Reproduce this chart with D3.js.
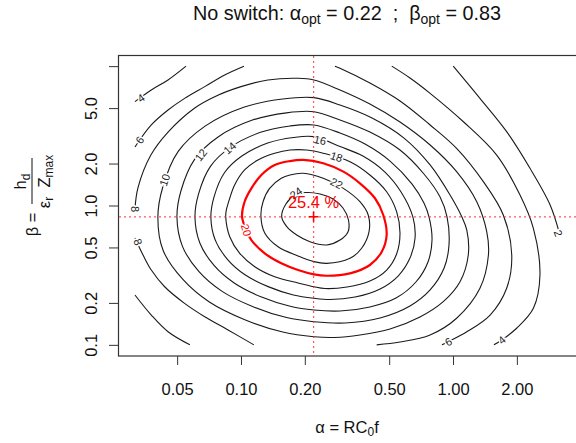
<!DOCTYPE html>
<html lang="en">
<head>
<meta charset="UTF-8"/>
<title>No switch contour</title>
<script src="https://d3js.org/d3.v7.min.js"></script>
<style>
  body { margin: 0; background: white; }
  svg { display: block; font-family: "Liberation Sans", Arial, sans-serif; }
</style>
</head>
<body>
<script>
var w = 576;
var h = 443;

// log axis ticks
var alphaTicks = [0.05, 0.1, 0.2, 0.5, 1, 2];
var alphaLabels = ["0.05", "0.10", "0.20", "0.50", "1.00", "2.00"];
var betaTicks = [0.1, 0.2, 0.5, 1, 2, 5, 10];
var betaLabels = ["0.1", "0.2", "0.5", "1.0", "2.0", "5.0", ""];

// optimum
var alphaOpt = 0.22;
var betaOpt = 0.83;
var effMax = 25.4;

// contour lines, each point is [log10 alpha, log10 beta]
var c24 = [[-0.808,-0.080],[-0.784,-0.152],[-0.737,-0.212],[-0.675,-0.260],[-0.596,-0.283],[-0.533,-0.248],[-0.495,-0.188],[-0.493,-0.104],[-0.519,-0.018],[-0.566,0.047],[-0.627,0.083],[-0.698,0.093],[-0.745,0.075],[-0.788,0.011]];
var c22 = [[-0.906,-0.075],[-0.888,-0.197],[-0.825,-0.296],[-0.731,-0.362],[-0.656,-0.403],[-0.596,-0.415],[-0.486,-0.379],[-0.431,-0.307],[-0.396,-0.188],[-0.400,-0.068],[-0.439,0.027],[-0.517,0.123],[-0.612,0.195],[-0.706,0.231],[-0.769,0.219],[-0.810,0.195],[-0.865,0.123],[-0.896,0.027]];
var c20 = [[-0.995,-0.080],[-0.975,-0.176],[-0.951,-0.248],[-0.888,-0.343],[-0.810,-0.415],[-0.731,-0.463],[-0.656,-0.494],[-0.596,-0.504],[-0.486,-0.487],[-0.392,-0.427],[-0.336,-0.332],[-0.313,-0.212],[-0.329,-0.068],[-0.368,0.052],[-0.439,0.159],[-0.517,0.243],[-0.612,0.303],[-0.706,0.327],[-0.769,0.319],[-0.841,0.291],[-0.904,0.219],[-0.951,0.123],[-0.983,0.027]];
var c18 = [[-1.072,-0.080],[-1.053,-0.224],[-1.006,-0.343],[-0.935,-0.439],[-0.841,-0.511],[-0.731,-0.556],[-0.656,-0.583],[-0.604,-0.596],[-0.500,-0.585],[-0.392,-0.542],[-0.313,-0.463],[-0.266,-0.348],[-0.250,-0.197],[-0.266,-0.044],[-0.313,0.099],[-0.392,0.219],[-0.486,0.314],[-0.612,0.375],[-0.690,0.398],[-0.769,0.398],[-0.841,0.375],[-0.920,0.327],[-0.983,0.255],[-1.030,0.147],[-1.053,0.052],[-1.069,-0.032]];
var c16 = [[-1.142,-0.083],[-1.127,0.062],[-1.078,0.235],[-0.996,0.355],[-0.874,0.448],[-0.753,0.488],[-0.656,0.494],[-0.533,0.423],[-0.425,0.355],[-0.321,0.240],[-0.245,0.097],[-0.189,-0.083],[-0.179,-0.233],[-0.203,-0.377],[-0.259,-0.506],[-0.344,-0.599],[-0.462,-0.657],[-0.580,-0.675],[-0.656,-0.666],[-0.753,-0.642],[-0.869,-0.584],[-0.981,-0.497],[-1.064,-0.386],[-1.122,-0.246]];
var c14 = [[-1.217,-0.083],[-1.200,0.083],[-1.144,0.281],[-1.049,0.419],[-0.908,0.525],[-0.768,0.571],[-0.656,0.578],[-0.533,0.520],[-0.415,0.441],[-0.297,0.319],[-0.193,0.154],[-0.137,0.018],[-0.113,-0.083],[-0.099,-0.248],[-0.118,-0.405],[-0.175,-0.549],[-0.269,-0.664],[-0.392,-0.728],[-0.533,-0.757],[-0.656,-0.750],[-0.768,-0.723],[-0.903,-0.657],[-1.032,-0.556],[-1.127,-0.430],[-1.194,-0.269]];
var c12 = [[-1.302,-0.083],[-1.283,0.106],[-1.218,0.333],[-1.108,0.492],[-0.946,0.613],[-0.785,0.665],[-0.656,0.673],[-0.533,0.614],[-0.392,0.527],[-0.250,0.398],[-0.137,0.226],[-0.061,0.061],[-0.028,-0.083],[-0.019,-0.283],[-0.042,-0.449],[-0.108,-0.606],[-0.203,-0.721],[-0.344,-0.807],[-0.509,-0.843],[-0.656,-0.834],[-0.785,-0.804],[-0.940,-0.728],[-1.089,-0.616],[-1.199,-0.473],[-1.276,-0.293]];
var c10 = [[-1.392,-0.083],[-1.369,0.131],[-1.296,0.388],[-1.171,0.568],[-0.987,0.705],[-0.803,0.764],[-0.656,0.774],[-0.533,0.721],[-0.382,0.628],[-0.231,0.484],[-0.108,0.291],[-0.014,0.075],[0.042,-0.083],[0.065,-0.176],[0.072,-0.355],[0.033,-0.547],[-0.046,-0.690],[-0.156,-0.800],[-0.297,-0.886],[-0.439,-0.929],[-0.557,-0.947],[-0.656,-0.942],[-0.803,-0.908],[-0.979,-0.822],[-1.149,-0.693],[-1.275,-0.529],[-1.367,-0.323]];
var c8a = [[-1.5,-0.025],[-1.486,0.126],[-1.425,0.362],[-1.344,0.527],[-1.218,0.700],[-1.124,0.781],[-1.000,0.853],[-0.873,0.901],[-0.731,0.913],[-0.656,0.901],[-0.533,0.829],[-0.392,0.728],[-0.250,0.599],[-0.108,0.434],[0.017,0.243],[0.112,0.027],[0.159,-0.188],[0.167,-0.355],[0.127,-0.594],[0.017,-0.809],[-0.108,-0.929],[-0.250,-0.980],[-0.360,-1.0]];
var c8b = [[-1.5,-0.233],[-1.462,-0.355],[-1.423,-0.463],[-1.360,-0.583],[-1.266,-0.702],[-1.171,-0.798],[-1.061,-0.893],[-0.939,-1.0]];
var c6a = [[-1.5,0.420],[-1.423,0.578],[-1.344,0.685],[-1.266,0.769],[-1.171,0.853],[-1.077,0.937],[-0.986,1.0]];
var c6b = [[-1.5,-0.642],[-1.423,-0.786],[-1.344,-0.906],[-1.241,-1.0]];
var c6c = [[-0.557,1.0],[-0.533,0.985],[-0.392,0.879],[-0.250,0.750],[-0.108,0.578],[0.017,0.410],[0.143,0.171],[0.237,-0.068],[0.277,-0.355],[0.253,-0.594],[0.175,-0.786],[0.065,-0.906],[-0.022,-0.977],[-0.052,-1.0]];
var c4a = [[-1.5,0.745],[-1.423,0.829],[-1.344,0.901],[-1.259,1.0]];
var c4b = [[-0.289,1.0],[-0.203,0.915],[-0.108,0.805],[0.049,0.601],[0.206,0.362],[0.316,0.075],[0.379,-0.164],[0.410,-0.499],[0.379,-0.738],[0.300,-0.881],[0.230,-0.965],[0.193,-1.0]];
var c2 = [[0.001,1.0],[0.127,0.769],[0.253,0.530],[0.363,0.267],[0.458,0.004],[0.5,-0.190]];

// contour labels: level, [log10 alpha, log10 beta], angle
var labelLevels = ["4", "6", "8", "8", "10", "12", "14", "16", "18", "20", "22", "24", "6", "4", "2"];
var labelPoints = [[-1.472,0.771],[-1.478,0.470],[-1.5,-0.025],[-1.486,-0.262],[-1.360,0.183],[-1.189,0.362],[-1.053,0.413],[-0.627,0.470],[-0.549,0.350],[-0.975,-0.176],[-0.549,0.159],[-0.741,0.090],[-0.022,-0.977],[0.230,-0.965],[0.497,-0.200]];
var labelAngles = [-35, -55, 90, 70, -72, -52, -42, 12, 18, 75, 28, -35, -30, -40, 70];

var pieces = [
	{level: 24, pts: c24, closed: true},
	{level: 22, pts: c22, closed: true},
	{level: 20, pts: c20, closed: true},
	{level: 18, pts: c18, closed: true},
	{level: 16, pts: c16, closed: true},
	{level: 14, pts: c14, closed: true},
	{level: 12, pts: c12, closed: true},
	{level: 10, pts: c10, closed: true},
	{level: 8, pts: c8a, closed: false},
	{level: 8, pts: c8b, closed: false},
	{level: 6, pts: c6a, closed: false},
	{level: 6, pts: c6b, closed: false},
	{level: 6, pts: c6c, closed: false},
	{level: 4, pts: c4a, closed: false},
	{level: 4, pts: c4b, closed: false},
	{level: 2, pts: c2, closed: false}
];

var xScale = d3.scaleLog()
	.domain([Math.pow(10, -1.58), Math.pow(10, 0.58)])
	.range([118, 576]);

var yScale = d3.scaleLog()
	.domain([Math.pow(10, -1.08), Math.pow(10, 1.08)])
	.range([356, 55]);

function px(d) { return xScale(Math.pow(10, d[0])); }
function py(d) { return yScale(Math.pow(10, d[1])); }

var svg = d3.select("body")
	.append("svg")
	.attr("width", w)
	.attr("height", h);

svg.append("rect")
	.attr("width", w)
	.attr("height", h)
	.attr("fill", "white");

// contour lines
var openLine = d3.line().x(px).y(py).curve(d3.curveCatmullRom.alpha(0.5));
var ringLine = d3.line().x(px).y(py).curve(d3.curveCatmullRomClosed.alpha(0.5));

svg.selectAll("path.contour")
	.data(pieces)
	.enter()
	.append("path")
	.attr("class", "contour")
	.attr("d", function(d){ return d.closed ? ringLine(d.pts) : openLine(d.pts); })
	.attr("fill", "none")
	.attr("stroke", function(d){ return d.level === 20 ? "#ff0000" : "#1a1a1a"; })
	.attr("stroke-width", function(d){ return d.level === 20 ? 2.2 : 1.1; });

// contour labels, white halo breaks the line like R does
svg.selectAll("text.clabel")
	.data(labelLevels)
	.enter()
	.append("text")
	.attr("class", "clabel")
	.attr("transform", function(d, i){
		return "translate(" + px(labelPoints[i]) + "," + py(labelPoints[i]) + ") rotate(" + labelAngles[i] + ")";
	})
	.attr("text-anchor", "middle")
	.attr("dominant-baseline", "central")
	.attr("fill", function(d){ return d === "20" ? "#ff0000" : "#222"; })
	.attr("stroke", "white")
	.attr("stroke-width", 3)
	.attr("paint-order", "stroke")
	.style("font-size", "11px")
	.text(function(d){ return d; });

// dotted optimum lines
svg.append("line")
	.attr("x1", xScale(alphaOpt)).attr("x2", xScale(alphaOpt))
	.attr("y1", 56).attr("y2", 356)
	.attr("stroke", "#ff2020")
	.attr("stroke-opacity", 0.75)
	.attr("stroke-width", 1.2)
	.attr("stroke-dasharray", "2,3");

svg.append("line")
	.attr("x1", 119).attr("x2", w)
	.attr("y1", yScale(betaOpt)).attr("y2", yScale(betaOpt))
	.attr("stroke", "#ff2020")
	.attr("stroke-opacity", 0.75)
	.attr("stroke-width", 1.2)
	.attr("stroke-dasharray", "2,3");

// optimum marker and value
svg.append("text")
	.attr("x", xScale(alphaOpt))
	.attr("y", yScale(betaOpt) - 9)
	.attr("text-anchor", "middle")
	.attr("fill", "#ff0000")
	.style("font-size", "16.5px")
	.style("white-space", "pre")
	.text(effMax + " %");

svg.append("path")
	.attr("d", "M" + (xScale(alphaOpt) - 5) + "," + yScale(betaOpt) + "h10M" + xScale(alphaOpt) + "," + (yScale(betaOpt) - 5) + "v10")
	.attr("stroke", "#ff0000")
	.attr("stroke-width", 1.6);

// box
svg.append("rect")
	.attr("x", 118.5).attr("y", 55.5)
	.attr("width", 470).attr("height", 300.5)
	.attr("fill", "none")
	.attr("stroke", "#333")
	.attr("stroke-width", 1.2);

// axes
var xAxis = d3.axisBottom(xScale)
	.tickValues(alphaTicks)
	.tickFormat(function(d, i){ return alphaLabels[i]; })
	.tickSize(9)
	.tickPadding(18);

var yAxis = d3.axisLeft(yScale)
	.tickValues(betaTicks)
	.tickFormat(function(d, i){ return betaLabels[i]; })
	.tickSize(9);

var gx = svg.append("g")
	.attr("transform", "translate(0,356)")
	.call(xAxis);
gx.select(".domain").remove();
gx.selectAll("line").attr("stroke", "#333");
gx.selectAll("text")
	.attr("fill", "#111")
	.style("font-size", "16.5px")
	.style("font-family", "'Liberation Sans', Arial, sans-serif");

var gy = svg.append("g")
	.attr("transform", "translate(118,0)")
	.call(yAxis);
gy.select(".domain").remove();
gy.selectAll("line").attr("stroke", "#333");
gy.selectAll("text")
	.attr("x", null)
	.attr("dy", null)
	.attr("text-anchor", "middle")
	.attr("transform", "translate(-21.3,0) rotate(-90)")
	.attr("fill", "#111")
	.style("font-size", "16.5px")
	.style("font-family", "'Liberation Sans', Arial, sans-serif");

// title (cex 1.2)
var title = svg.append("text")
	.attr("x", 347)
	.attr("y", 19.5)
	.attr("text-anchor", "middle")
	.attr("fill", "#111")
	.style("font-size", "19.8px")
	.style("white-space", "pre");
title.append("tspan").text("No switch: α");
title.append("tspan").attr("dy", 4.5).style("font-size", "14px").text("opt");
title.append("tspan").attr("dy", -4.5).text(" = 0.22  ;  β");
title.append("tspan").attr("dy", 4.5).style("font-size", "14px").text("opt");
title.append("tspan").attr("dy", -4.5).text(" = 0.83");

// x label
var xl = svg.append("text")
	.attr("x", 347)
	.attr("y", 432.5)
	.attr("text-anchor", "middle")
	.attr("fill", "#111")
	.style("font-size", "16.5px");
xl.append("tspan").text("α = RC");
xl.append("tspan").attr("dy", 3.5).style("font-size", "12px").text("0");
xl.append("tspan").attr("dy", -3.5).text("f");

// y label (fraction)
var yl = svg.append("g")
	.attr("transform", "translate(32,197) rotate(-90)")
	.attr("fill", "#111");
yl.append("text")
	.attr("x", -11).attr("y", 5.5)
	.attr("text-anchor", "end")
	.style("font-size", "16.5px")
	.style("white-space", "pre")
	.text("β = ");
yl.append("line")
	.attr("x1", -7).attr("x2", 39)
	.attr("y1", 0).attr("y2", 0)
	.attr("stroke", "#111")
	.attr("stroke-width", 1);
var num = yl.append("text")
	.attr("x", 15.5).attr("y", -6)
	.attr("text-anchor", "middle")
	.style("font-size", "16.5px");
num.append("tspan").text("h");
num.append("tspan").attr("dy", 3.5).style("font-size", "12px").text("d");
var den = yl.append("text")
	.attr("x", 15.5).attr("y", 17.5)
	.attr("text-anchor", "middle")
	.style("font-size", "16.5px")
	.style("white-space", "pre");
den.append("tspan").text("ε");
den.append("tspan").attr("dy", 3.5).style("font-size", "12px").text("r");
den.append("tspan").attr("dy", -3.5).text("  Z");
den.append("tspan").attr("dy", 3.5).style("font-size", "12px").text("max");

</script>
</body>
</html>
